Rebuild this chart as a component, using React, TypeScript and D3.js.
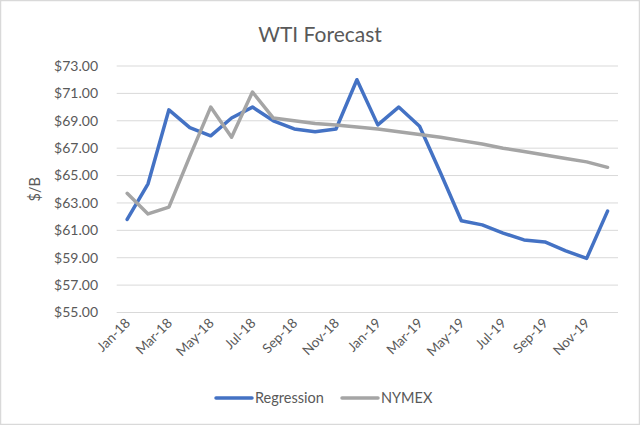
import React from "react";
import * as d3 from "d3";

const months = [
  "Jan-18","Feb-18","Mar-18","Apr-18","May-18","Jun-18","Jul-18","Aug-18","Sep-18","Oct-18","Nov-18","Dec-18",
  "Jan-19","Feb-19","Mar-19","Apr-19","May-19","Jun-19","Jul-19","Aug-19","Sep-19","Oct-19","Nov-19","Dec-19",
];
const regression = [
  61.8, 64.4, 69.8, 68.5, 67.9, 69.2, 70.0, 69.0, 68.4, 68.2, 68.4, 72.0,
  68.7, 70.0, 68.6, 65.2, 61.7, 61.4, 60.8, 60.3, 60.15, 59.5, 58.95, 62.4,
];
const nymex = [
  63.7, 62.2, 62.7, 66.4, 70.0, 67.8, 71.1, 69.2, 69.0, 68.8, 68.7, 68.55,
  68.4, 68.2, 68.0, 67.8, 67.55, 67.3, 67.0, 66.75, 66.5, 66.25, 66.0, 65.6,
];
const yTicks = [55, 57, 59, 61, 63, 65, 67, 69, 71, 73];
const seriesNames = ["Regression", "NYMEX"];
const colors = ["#4472C4", "#A5A5A5"];

const W = 640, H = 425;
const FONT = "Lato, 'Open Sans', sans-serif";

export default function App() {
  const x = d3.scaleBand<string>().domain(months).range([116.7, 618]).padding(0);
  const y = d3.scaleLinear().domain([55, 73]).range([312.5, 66]);
  const cx = (m: string) => (x(m) as number) + x.bandwidth() / 2;
  const line = d3
    .line<number>()
    .x((_, i) => cx(months[i]))
    .y((v) => y(v));
  const data = [regression, nymex];
  const legendX = [216, 342];

  return (
    <svg
      width={W}
      height={H}
      style={{ position: "fixed", left: 0, top: 0, background: "#fff" }}
      fontFamily={FONT}
    >
      <rect x={0.5} y={0.5} width={W - 1} height={H - 1} fill="#fff" stroke="#d9d9d9" strokeWidth={1.5} />
      <text x={320} y={42} textAnchor="middle" fontSize={21} fill="#595959">
        WTI Forecast
      </text>
      {yTicks.map((t) => (
        <g key={t}>
          <line x1={116.7} x2={618} y1={y(t)} y2={y(t)} stroke="#d9d9d9" strokeWidth={1} />
          <text x={98} y={y(t)} dy="0.35em" textAnchor="end" fontSize={14} fill="#595959">
            {d3.format("$.2f")(t)}
          </text>
        </g>
      ))}
      <text
        transform={`translate(40,${y(64)}) rotate(-90)`}
        textAnchor="middle"
        fontSize={14.5}
        fill="#595959"
      >
        $/B
      </text>
      {months.map((m, i) =>
        i % 2 === 0 ? (
          <text
            key={m}
            transform={`translate(${cx(m) + 4},${324}) rotate(-45)`}
            textAnchor="end"
            fontSize={13.5}
            fill="#595959"
          >
            {m}
          </text>
        ) : null
      )}
      {data.map((d, k) => (
        <path
          key={k}
          d={line(d) || ""}
          fill="none"
          stroke={colors[k]}
          strokeWidth={3.5}
          strokeLinejoin="round"
          strokeLinecap="round"
        />
      ))}
      {seriesNames.map((n, k) => (
        <g key={n}>
          <line
            x1={legendX[k]}
            x2={legendX[k] + 36}
            y1={398}
            y2={398}
            stroke={colors[k]}
            strokeWidth={3.5}
            strokeLinecap="round"
          />
          <text x={legendX[k] + 39} y={398} dy="0.35em" fontSize={14.5} fill="#595959">
            {n}
          </text>
        </g>
      ))}
    </svg>
  );
}
